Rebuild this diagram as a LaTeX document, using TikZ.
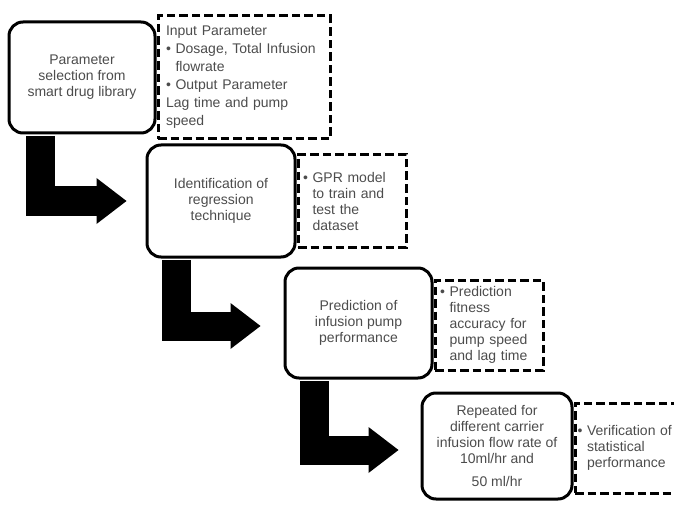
\documentclass[tikz,border=0pt]{standalone}
\usepackage{fontspec}
\setmainfont{Liberation Sans}
\usetikzlibrary{arrows.meta,positioning}
\newcommand{\blt}{\textbullet\ }
\newcommand{\bpad}{\hphantom{\textbullet\ }}

\begin{document}
\begin{tikzpicture}[x=1pt,y=-1pt,font=\fontsize{14}{16}\selectfont,text=black!70,
    stepbox/.style={draw=black,line width=3pt,rounded corners=14pt,align=center},
    notebox/.style={draw=black,line width=3pt,dash pattern=on 8.5pt off 4pt,align=left,inner xsep=5pt},
    bigarrow/.style={draw=black,line width=29pt,-{Triangle[length=30pt,width=46pt,line width=0pt]}}]
\useasboundingbox (0,0) rectangle (674,505);
% steps
\node[stepbox,minimum width=146pt,minimum height=111pt] (par) at (82,77.5)
    {Parameter\\ selection from\\ smart drug library};
\node[stepbox,minimum width=148pt,minimum height=112pt] (reg) at (221,201)
    {Identification of\\ regression\\ technique};
\node[stepbox,minimum width=147pt,minimum height=110pt] (pred) at (358.5,323)
    {Prediction of\\ infusion pump\\ performance};
\node[stepbox,minimum width=150pt,minimum height=106pt] (rep) at (497,446)
    {Repeated for\\ different carrier\\ infusion flow rate of\\ 10ml/hr and\\[7pt] 50 ml/hr};
% notes
\node[notebox,right=0pt of par,minimum width=172pt,minimum height=123pt,text width=156pt,
      inner xsep=8pt,font=\fontsize{14}{18}\selectfont] (parnote)
    {Input Parameter\\ \blt Dosage, Total Infusion\\ \bpad flowrate\\ \blt Output Parameter\\
     Lag time and pump\\ speed};
\node[notebox,right=0pt of reg,minimum width=108pt,minimum height=92pt,text width=98pt] (regnote)
    {\blt GPR model\\ \bpad to train and\\ \bpad test the\\ \bpad dataset};
\node[notebox,right=0pt of pred,yshift=-2pt,minimum width=108pt,minimum height=90pt,text width=98pt] (prednote)
    {\blt Prediction\\ \bpad fitness\\ \bpad accuracy for\\ \bpad pump speed\\ \bpad and lag time};
\node[notebox,right=0pt of rep,yshift=-2pt,minimum width=101pt,minimum height=90pt,text width=96pt,
      inner xsep=2.5pt] (repnote)
    {\blt Verification of\\ \bpad statistical\\ \bpad performance};
% arrows
\draw[bigarrow] ([xshift=33pt,yshift=-1.5pt]par.south west) |- ([xshift=-19pt]reg.west);
\draw[bigarrow] ([xshift=31pt,yshift=-1.5pt]reg.south west) |- ([xshift=-23pt,yshift=-3pt]pred.west);
\draw[bigarrow] ([xshift=31pt,yshift=-1.5pt]pred.south west) |- ([xshift=-22pt,yshift=-4pt]rep.west);
\end{tikzpicture}
\end{document}
